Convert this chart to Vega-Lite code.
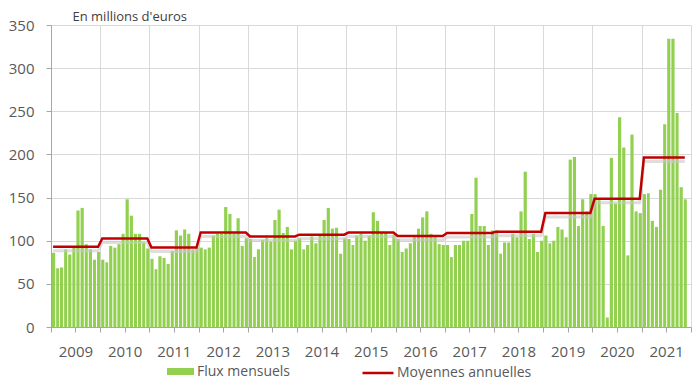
{
  "$schema": "https://vega.github.io/schema/vega-lite/v6.json",
  "width": 640,
  "height": 302,
  "autosize": "none",
  "padding": {"left": 51, "top": 25, "right": 9, "bottom": 53},
  "background": "white",
  "config": {
    "font": "Open Sans",
    "view": {"stroke": null},
    "axis": {"labelFont": "Open Sans", "labelColor": "#595959", "labelFontSize": 15, "titleFont": "Open Sans", "gridColor": "#d9d9d9", "domainColor": "#a6a6a6", "tickColor": "#a6a6a6", "tickSize": 5},
    "legend": {"labelFont": "Open Sans", "labelFontSize": 15, "labelColor": "#595959"}
  },
  "data": {"values": [
    {"date":"2009-01-01","flux":86,"moy":93},{"date":"2009-02-01","flux":68,"moy":93},{"date":"2009-03-01","flux":69,"moy":93},{"date":"2009-04-01","flux":90,"moy":93},{"date":"2009-05-01","flux":84,"moy":93},{"date":"2009-06-01","flux":92,"moy":93},{"date":"2009-07-01","flux":135,"moy":93},{"date":"2009-08-01","flux":138,"moy":93},{"date":"2009-09-01","flux":96,"moy":93},{"date":"2009-10-01","flux":90,"moy":93},{"date":"2009-11-01","flux":78,"moy":93},{"date":"2009-12-01","flux":87,"moy":93},
    {"date":"2010-01-01","flux":78,"moy":102.5},{"date":"2010-02-01","flux":75,"moy":102.5},{"date":"2010-03-01","flux":94,"moy":102.5},{"date":"2010-04-01","flux":92,"moy":102.5},{"date":"2010-05-01","flux":96,"moy":102.5},{"date":"2010-06-01","flux":108,"moy":102.5},{"date":"2010-07-01","flux":148,"moy":102.5},{"date":"2010-08-01","flux":129,"moy":102.5},{"date":"2010-09-01","flux":108,"moy":102.5},{"date":"2010-10-01","flux":108,"moy":102.5},{"date":"2010-11-01","flux":98,"moy":102.5},{"date":"2010-12-01","flux":91,"moy":102.5},
    {"date":"2011-01-01","flux":79,"moy":92},{"date":"2011-02-01","flux":67,"moy":92},{"date":"2011-03-01","flux":82,"moy":92},{"date":"2011-04-01","flux":80,"moy":92},{"date":"2011-05-01","flux":73,"moy":92},{"date":"2011-06-01","flux":88,"moy":92},{"date":"2011-07-01","flux":112,"moy":92},{"date":"2011-08-01","flux":106,"moy":92},{"date":"2011-09-01","flux":113,"moy":92},{"date":"2011-10-01","flux":108,"moy":92},{"date":"2011-11-01","flux":90,"moy":92},{"date":"2011-12-01","flux":92,"moy":92},
    {"date":"2012-01-01","flux":92,"moy":109.5},{"date":"2012-02-01","flux":90,"moy":109.5},{"date":"2012-03-01","flux":92,"moy":109.5},{"date":"2012-04-01","flux":106,"moy":109.5},{"date":"2012-05-01","flux":108,"moy":109.5},{"date":"2012-06-01","flux":108,"moy":109.5},{"date":"2012-07-01","flux":139,"moy":109.5},{"date":"2012-08-01","flux":131,"moy":109.5},{"date":"2012-09-01","flux":108,"moy":109.5},{"date":"2012-10-01","flux":126,"moy":109.5},{"date":"2012-11-01","flux":94,"moy":109.5},{"date":"2012-12-01","flux":103,"moy":109.5},
    {"date":"2013-01-01","flux":102,"moy":105},{"date":"2013-02-01","flux":81,"moy":105},{"date":"2013-03-01","flux":90,"moy":105},{"date":"2013-04-01","flux":101,"moy":105},{"date":"2013-05-01","flux":103,"moy":105},{"date":"2013-06-01","flux":99,"moy":105},{"date":"2013-07-01","flux":124,"moy":105},{"date":"2013-08-01","flux":136,"moy":105},{"date":"2013-09-01","flux":109,"moy":105},{"date":"2013-10-01","flux":116,"moy":105},{"date":"2013-11-01","flux":90,"moy":105},{"date":"2013-12-01","flux":100,"moy":105},
    {"date":"2014-01-01","flux":103,"moy":107},{"date":"2014-02-01","flux":90,"moy":107},{"date":"2014-03-01","flux":95,"moy":107},{"date":"2014-04-01","flux":105,"moy":107},{"date":"2014-05-01","flux":97,"moy":107},{"date":"2014-06-01","flux":106,"moy":107},{"date":"2014-07-01","flux":124,"moy":107},{"date":"2014-08-01","flux":138,"moy":107},{"date":"2014-09-01","flux":114,"moy":107},{"date":"2014-10-01","flux":115,"moy":107},{"date":"2014-11-01","flux":85,"moy":107},{"date":"2014-12-01","flux":103,"moy":107},
    {"date":"2015-01-01","flux":102,"moy":109.5},{"date":"2015-02-01","flux":95,"moy":109.5},{"date":"2015-03-01","flux":106,"moy":109.5},{"date":"2015-04-01","flux":108,"moy":109.5},{"date":"2015-05-01","flux":100,"moy":109.5},{"date":"2015-06-01","flux":106,"moy":109.5},{"date":"2015-07-01","flux":133,"moy":109.5},{"date":"2015-08-01","flux":123,"moy":109.5},{"date":"2015-09-01","flux":110,"moy":109.5},{"date":"2015-10-01","flux":110,"moy":109.5},{"date":"2015-11-01","flux":95,"moy":109.5},{"date":"2015-12-01","flux":107,"moy":109.5},
    {"date":"2016-01-01","flux":102,"moy":105.5},{"date":"2016-02-01","flux":87,"moy":105.5},{"date":"2016-03-01","flux":91,"moy":105.5},{"date":"2016-04-01","flux":97,"moy":105.5},{"date":"2016-05-01","flux":104,"moy":105.5},{"date":"2016-06-01","flux":114,"moy":105.5},{"date":"2016-07-01","flux":127,"moy":105.5},{"date":"2016-08-01","flux":134,"moy":105.5},{"date":"2016-09-01","flux":108,"moy":105.5},{"date":"2016-10-01","flux":104,"moy":105.5},{"date":"2016-11-01","flux":96,"moy":105.5},{"date":"2016-12-01","flux":95,"moy":105.5},
    {"date":"2017-01-01","flux":95,"moy":109},{"date":"2017-02-01","flux":81,"moy":109},{"date":"2017-03-01","flux":95,"moy":109},{"date":"2017-04-01","flux":95,"moy":109},{"date":"2017-05-01","flux":100,"moy":109},{"date":"2017-06-01","flux":100,"moy":109},{"date":"2017-07-01","flux":131,"moy":109},{"date":"2017-08-01","flux":173,"moy":109},{"date":"2017-09-01","flux":117,"moy":109},{"date":"2017-10-01","flux":117,"moy":109},{"date":"2017-11-01","flux":95,"moy":109},{"date":"2017-12-01","flux":112,"moy":109},
    {"date":"2018-01-01","flux":112,"moy":110.5},{"date":"2018-02-01","flux":85,"moy":110.5},{"date":"2018-03-01","flux":98,"moy":110.5},{"date":"2018-04-01","flux":98,"moy":110.5},{"date":"2018-05-01","flux":108,"moy":110.5},{"date":"2018-06-01","flux":104,"moy":110.5},{"date":"2018-07-01","flux":134,"moy":110.5},{"date":"2018-08-01","flux":180,"moy":110.5},{"date":"2018-09-01","flux":102,"moy":110.5},{"date":"2018-10-01","flux":108,"moy":110.5},{"date":"2018-11-01","flux":87,"moy":110.5},{"date":"2018-12-01","flux":100,"moy":110.5},
    {"date":"2019-01-01","flux":106,"moy":132},{"date":"2019-02-01","flux":97,"moy":132},{"date":"2019-03-01","flux":100,"moy":132},{"date":"2019-04-01","flux":116,"moy":132},{"date":"2019-05-01","flux":113,"moy":132},{"date":"2019-06-01","flux":104,"moy":132},{"date":"2019-07-01","flux":194,"moy":132},{"date":"2019-08-01","flux":197,"moy":132},{"date":"2019-09-01","flux":117,"moy":132},{"date":"2019-10-01","flux":148,"moy":132},{"date":"2019-11-01","flux":134,"moy":132},{"date":"2019-12-01","flux":154,"moy":132},
    {"date":"2020-01-01","flux":154,"moy":148.5},{"date":"2020-02-01","flux":147,"moy":148.5},{"date":"2020-03-01","flux":117,"moy":148.5},{"date":"2020-04-01","flux":11,"moy":148.5},{"date":"2020-05-01","flux":196,"moy":148.5},{"date":"2020-06-01","flux":143,"moy":148.5},{"date":"2020-07-01","flux":243,"moy":148.5},{"date":"2020-08-01","flux":208,"moy":148.5},{"date":"2020-09-01","flux":83,"moy":148.5},{"date":"2020-10-01","flux":223,"moy":148.5},{"date":"2020-11-01","flux":134,"moy":148.5},{"date":"2020-12-01","flux":132,"moy":148.5},
    {"date":"2021-01-01","flux":154,"moy":196.5},{"date":"2021-02-01","flux":155,"moy":196.5},{"date":"2021-03-01","flux":123,"moy":196.5},{"date":"2021-04-01","flux":116,"moy":196.5},{"date":"2021-05-01","flux":159,"moy":196.5},{"date":"2021-06-01","flux":235,"moy":196.5},{"date":"2021-07-01","flux":334,"moy":196.5},{"date":"2021-08-01","flux":334,"moy":196.5},{"date":"2021-09-01","flux":248,"moy":196.5},{"date":"2021-10-01","flux":162,"moy":196.5},{"date":"2021-11-01","flux":148,"moy":196.5}
  ]},
  "encoding": {
    "x": {
      "field": "date", "type": "temporal", "timeUnit": "utcyearmonth",
      "scale": {"type": "utc", "domain": ["2009-01-01", "2022-01-01"], "nice": false},
      "axis": {
        "title": null,
        "tickCount": {"interval": "month", "step": 6},
        "labelExpr": "utcmonth(datum.value) == 6 ? '' + utcyear(datum.value) : ''",
        "labelOverlap": false, "labelFlush": false, "labelPadding": 12, "labelDx": -4,
        "gridColor": {"condition": {"test": "utcmonth(datum.value) == 0", "value": "#d9d9d9"}, "value": "transparent"}
      }
    }
  },
  "layer": [
    {
      "mark": {"type": "bar", "timeUnitBandSize": 0.78},
      "encoding": {
        "y": {"field": "flux", "type": "quantitative", "scale": {"domain": [0, 350], "nice": false},
          "axis": {"values": [0, 50, 100, 150, 200, 250, 300, 350], "title": "En millions d'euros", "titleAngle": 0, "titleAlign": "left", "titleBaseline": "middle", "titleX": 21, "titleY": -9, "titleFontSize": 13, "titleFontWeight": "normal", "titleColor": "#404040", "labelPadding": 12}},
        "fill": {"datum": "Flux mensuels", "scale": {"range": ["#92D050"]},
          "legend": {"title": null, "orient": "none", "legendX": 116, "legendY": 333, "padding": 0, "symbolType": "M-1,-0.26H1V0.26H-1Z", "symbolSize": 729, "symbolStrokeWidth": 0, "labelOffset": 3, "labelFontSize": 14}}
      }
    },
    {
      "mark": {"type": "line", "color": "#c8c8c8", "strokeWidth": 3, "opacity": 0.6, "yOffset": 4},
      "encoding": {
        "x": {"field": "date", "type": "temporal", "timeUnit": "utcyearmonth", "bandPosition": 0.5},
        "y": {"field": "moy", "type": "quantitative"}
      }
    },
    {
      "mark": {"type": "line", "strokeWidth": 2.5},
      "encoding": {
        "x": {"field": "date", "type": "temporal", "timeUnit": "utcyearmonth", "bandPosition": 0.5},
        "y": {"field": "moy", "type": "quantitative"},
        "stroke": {"datum": "Moyennes annuelles", "scale": {"range": ["#C00000"]},
          "legend": {"title": null, "orient": "none", "legendX": 310, "legendY": 331, "padding": 0, "symbolType": "stroke", "symbolSize": 961, "symbolStrokeWidth": 2.5, "labelOffset": 2, "labelFontSize": 14}}
      }
    }
  ]
}
